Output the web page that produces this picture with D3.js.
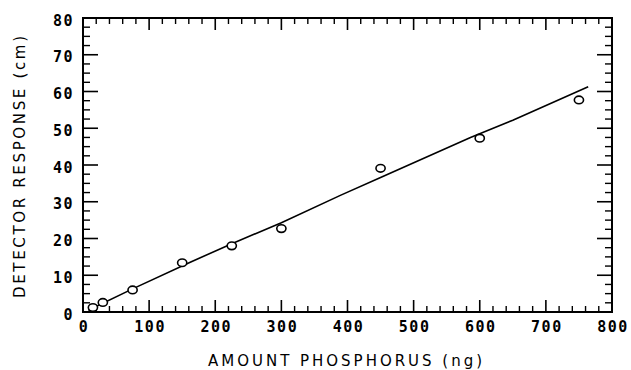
<!DOCTYPE html>
<html>
<head>
<meta charset="utf-8">
<script src="https://cdn.jsdelivr.net/npm/d3@7"></script>
<style>
  html, body { margin: 0; padding: 0; background: #fff; }
  svg { display: block; }
  .tick-label { font-family: "DejaVu Sans Mono", monospace; font-size: 15px; font-weight: bold; letter-spacing: 1.5px; fill: #000; }
  .axis-title { font-family: "DejaVu Sans", sans-serif; font-size: 15px; fill: #000; }
</style>
</head>
<body>
<svg id="chart" width="631" height="370"></svg>
<script>
// ---- data ----
const amountNg = [15, 30, 75, 150, 225, 300, 450, 600, 750];
const responseCm = [1.2, 2.6, 6.0, 13.4, 18.0, 22.7, 39.1, 47.3, 57.7];
// fitted curve as drawn
const fitX = [8, 75, 163, 225, 300, 390, 450, 586, 650, 764];
const fitY = [0.5, 6.3, 13.6, 18.6, 24.3, 31.8, 36.6, 47.5, 52.2, 61.3];
const xTickValues = [0, 100, 200, 300, 400, 500, 600, 700, 800];
const yTickValues = [0, 10, 20, 30, 40, 50, 60, 70, 80];
const xTitle = "AMOUNT PHOSPHORUS (ng)";
const yTitle = "DETECTOR RESPONSE (cm)";

const svg = d3.select("#chart");
const mLeft = 83, mRight = 612, mTop = 18, mBottom = 312;

const x = d3.scaleLinear().domain([0, 800]).range([mLeft, mRight]);
const y = d3.scaleLinear().domain([0, 80]).range([mBottom, mTop]);

// minor tick values
const xMinor = d3.range(0, 801, 20).filter(v => v % 100 !== 0);
const yMinor = d3.range(0, 80.01, 2.5).filter(v => v % 10 !== 0);

const g = svg.append("g");

function xAxisTicks(yPos, dir) {
  g.append("g").selectAll("line").data(xTickValues).join("line")
    .attr("x1", d => x(d)).attr("x2", d => x(d))
    .attr("y1", yPos).attr("y2", yPos + dir * 12)
    .attr("stroke", "#000").attr("stroke-width", 1.6);
  g.append("g").selectAll("line").data(xMinor).join("line")
    .attr("x1", d => x(d)).attr("x2", d => x(d))
    .attr("y1", yPos).attr("y2", yPos + dir * 6)
    .attr("stroke", "#000").attr("stroke-width", 1.4);
}
function yAxisTicks(xPos, dir) {
  g.append("g").selectAll("line").data(yTickValues).join("line")
    .attr("y1", d => y(d)).attr("y2", d => y(d))
    .attr("x1", xPos).attr("x2", xPos + dir * 15)
    .attr("stroke", "#000").attr("stroke-width", 1.6);
  g.append("g").selectAll("line").data(yMinor).join("line")
    .attr("y1", d => y(d)).attr("y2", d => y(d))
    .attr("x1", xPos).attr("x2", xPos + dir * 7)
    .attr("stroke", "#000").attr("stroke-width", 1.4);
}
xAxisTicks(mBottom, -1);
xAxisTicks(mTop, 1);
yAxisTicks(mLeft, 1);
yAxisTicks(mRight, -1);

// frame
g.append("rect")
  .attr("x", mLeft).attr("y", mTop)
  .attr("width", mRight - mLeft).attr("height", mBottom - mTop)
  .attr("fill", "none").attr("stroke", "#000").attr("stroke-width", 2);

// tick labels
g.append("g").selectAll("text").data(xTickValues).join("text")
  .attr("class", "tick-label")
  .attr("x", d => x(d) + 1).attr("y", 332)
  .attr("text-anchor", "middle")
  .text(d => d);
g.append("g").selectAll("text").data(yTickValues).join("text")
  .attr("class", "tick-label")
  .attr("x", 74).attr("y", d => y(d) + 7.5)
  .attr("text-anchor", "end")
  .text(d => d);

// titles
g.append("text").attr("class", "axis-title")
  .attr("x", 345).attr("y", 366)
  .attr("text-anchor", "middle")
  .attr("textLength", 274).attr("lengthAdjust", "spacing")
  .text(xTitle);
g.append("text").attr("class", "axis-title")
  .attr("transform", "translate(25,167) rotate(-90)")
  .attr("text-anchor", "middle")
  .attr("textLength", 262).attr("lengthAdjust", "spacing")
  .text(yTitle);

// fitted line
const line = d3.line().x(d => x(d[0])).y(d => y(d[1]));
g.append("path")
  .datum(fitX.map((v, i) => [v, fitY[i]]))
  .attr("d", line)
  .attr("fill", "none").attr("stroke", "#000").attr("stroke-width", 1.6);

// data points
g.append("g").selectAll("ellipse").data(amountNg.map((v, i) => [v, responseCm[i]])).join("ellipse")
  .attr("cx", d => x(d[0])).attr("cy", d => y(d[1]))
  .attr("rx", 4.6).attr("ry", 3.8)
  .attr("fill", "#fff").attr("stroke", "#000").attr("stroke-width", 1.6);
</script>
</body>
</html>
